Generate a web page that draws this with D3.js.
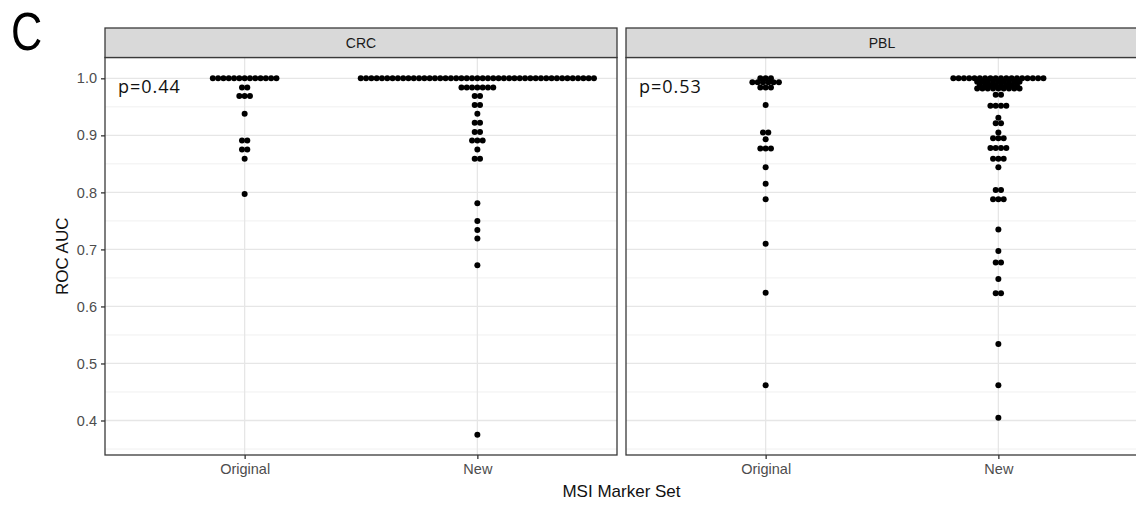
<!DOCTYPE html>
<html>
<head>
<meta charset="utf-8">
<script src="https://cdn.jsdelivr.net/npm/d3@7"></script>
<style>
  html, body { margin: 0; padding: 0; background: #fff; }
  svg { display: block; }
</style>
</head>
<body>
<svg id="chart" width="1136" height="506"></svg>
<script>
// ---- Data (value, number of dots at that value) ----
const panelNames = ["CRC", "PBL"];
const categories = ["Original", "New"];
const pValues = ["p=0.44", "p=0.53"];
const yTicks = [0.4, 0.5, 0.6, 0.7, 0.8, 0.9, 1.0];
const yMinorTicks = [0.35, 0.45, 0.55, 0.65, 0.75, 0.85, 0.95];

const crcOriginal = [[1.000,13],[0.984,2],[0.969,3],[0.938,1],[0.891,2],[0.875,2],[0.859,1],[0.797,1]];
const crcNew = [[1.000,45],[0.984,7],[0.969,2],[0.953,2],[0.938,1],[0.922,2],[0.906,2],[0.891,3],
                [0.875,1],[0.859,2],[0.781,1],[0.750,1],[0.734,1],[0.719,1],[0.672,1],[0.375,1]];
const pblOriginal = [[1.000,3],[0.993,6],[0.984,3],[0.953,1],[0.905,2],[0.893,1],[0.877,3],
                     [0.844,1],[0.815,1],[0.788,1],[0.710,1],[0.624,1],[0.462,1]];
const pblNew = [[1.000,18],[0.994,9],[0.988,8],[0.982,9],[0.971,2],[0.952,4],[0.931,1],[0.921,2],
                [0.905,1],[0.895,3],[0.878,4],[0.859,3],[0.844,1],[0.804,2],[0.788,3],[0.735,1],
                [0.697,1],[0.677,2],[0.648,1],[0.623,2],[0.534,1],[0.462,1],[0.405,1]];

const panelData = [[crcOriginal, crcNew], [pblOriginal, pblNew]];

// ---- Layout ----
const svg = d3.select("#chart");
const panelTop = 57.5, panelBottom = 455, stripTop = 28;
const panelW = 512, panelGap = 9, panelLeft0 = 105;
const dotR = 3, dotStep = 5.3;
const axisFont = "'Liberation Sans', Arial, sans-serif";

const y = d3.scaleLinear().domain([0.3395, 1.0365]).range([panelBottom, panelTop]);

// Big panel letter
svg.append("text").attr("transform", "translate(11,50) scale(0.8,1)")
  .attr("font-family", axisFont).attr("font-size", 54)
  .attr("fill", "#000").text("C");

panelNames.forEach((name, pi) => {
  const x0 = panelLeft0 + pi * (panelW + panelGap);
  const x = d3.scalePoint().domain(categories).range([x0, x0 + panelW]).padding(0.6);
  const g = svg.append("g");

  // panel background
  g.append("rect").attr("x", x0).attr("y", panelTop).attr("width", panelW)
    .attr("height", panelBottom - panelTop).attr("fill", "#fff");

  // minor grid
  g.selectAll(".ymin").data(yMinorTicks).join("line")
    .attr("x1", x0).attr("x2", x0 + panelW)
    .attr("y1", d => y(d)).attr("y2", d => y(d))
    .attr("stroke", "#f0f0f0").attr("stroke-width", 1);
  // major grid
  g.selectAll(".ymaj").data(yTicks).join("line")
    .attr("x1", x0).attr("x2", x0 + panelW)
    .attr("y1", d => y(d)).attr("y2", d => y(d))
    .attr("stroke", "#e6e6e6").attr("stroke-width", 1.3);
  g.selectAll(".xmaj").data(categories).join("line")
    .attr("x1", d => x(d)).attr("x2", d => x(d))
    .attr("y1", panelTop).attr("y2", panelBottom)
    .attr("stroke", "#e6e6e6").attr("stroke-width", 1.3);

  // dots
  categories.forEach((cat, ci) => {
    const rows = panelData[pi][ci];
    const pts = [];
    rows.forEach(([v, n]) => {
      for (let i = 0; i < n; i++) pts.push({ v, off: (i - (n - 1) / 2) * dotStep });
    });
    g.selectAll(null).data(pts).join("circle")
      .attr("cx", d => x(cat) + d.off).attr("cy", d => y(d.v))
      .attr("r", dotR).attr("fill", "#000");
  });

  // p value
  g.append("text").attr("x", x0 + 13).attr("y", 93)
    .attr("font-family", "'Open Sans', sans-serif").attr("font-size", 18)
    .attr("letter-spacing", 1).attr("fill", "#111").text(pValues[pi]);

  // panel border
  g.append("rect").attr("x", x0).attr("y", panelTop).attr("width", panelW)
    .attr("height", panelBottom - panelTop).attr("fill", "none")
    .attr("stroke", "#3a3a3a").attr("stroke-width", 1.3);

  // strip
  g.append("rect").attr("x", x0).attr("y", stripTop).attr("width", panelW)
    .attr("height", panelTop - stripTop).attr("fill", "#d9d9d9")
    .attr("stroke", "#3a3a3a").attr("stroke-width", 1.3);
  g.append("text").attr("x", x0 + panelW / 2).attr("y", (stripTop + panelTop) / 2)
    .attr("dy", "0.36em").attr("text-anchor", "middle")
    .attr("font-family", axisFont).attr("font-size", 14).attr("fill", "#1a1a1a").text(name);

  // x axis
  const xAxis = g.append("g").attr("transform", `translate(0,${panelBottom})`)
    .call(d3.axisBottom(x).tickSize(4).tickPadding(5));
  xAxis.select(".domain").remove();
  xAxis.selectAll(".tick line").attr("stroke", "#333").attr("stroke-width", 1.3);
  xAxis.selectAll(".tick text").attr("font-family", axisFont).attr("font-size", 14.5).attr("fill", "#4d4d4d");

  // y axis on first panel
  if (pi === 0) {
    const yAxis = g.append("g").attr("transform", `translate(${x0},0)`)
      .call(d3.axisLeft(y).tickValues(yTicks).tickFormat(d3.format(".1f")).tickSize(4).tickPadding(4));
    yAxis.select(".domain").remove();
    yAxis.selectAll(".tick line").attr("stroke", "#333").attr("stroke-width", 1.3);
    yAxis.selectAll(".tick text").attr("font-family", axisFont).attr("font-size", 14.5).attr("fill", "#4d4d4d");
  }
});

// axis titles
svg.append("text").attr("x", panelLeft0 + (2 * panelW + panelGap) / 2).attr("y", 497)
  .attr("text-anchor", "middle").attr("font-family", axisFont).attr("font-size", 17)
  .attr("fill", "#111").text("MSI Marker Set");
svg.append("text").attr("transform", `translate(68,${(panelTop + panelBottom) / 2}) rotate(-90)`)
  .attr("text-anchor", "middle").attr("font-family", axisFont).attr("font-size", 17)
  .attr("fill", "#111").text("ROC AUC");
</script>
</body>
</html>
